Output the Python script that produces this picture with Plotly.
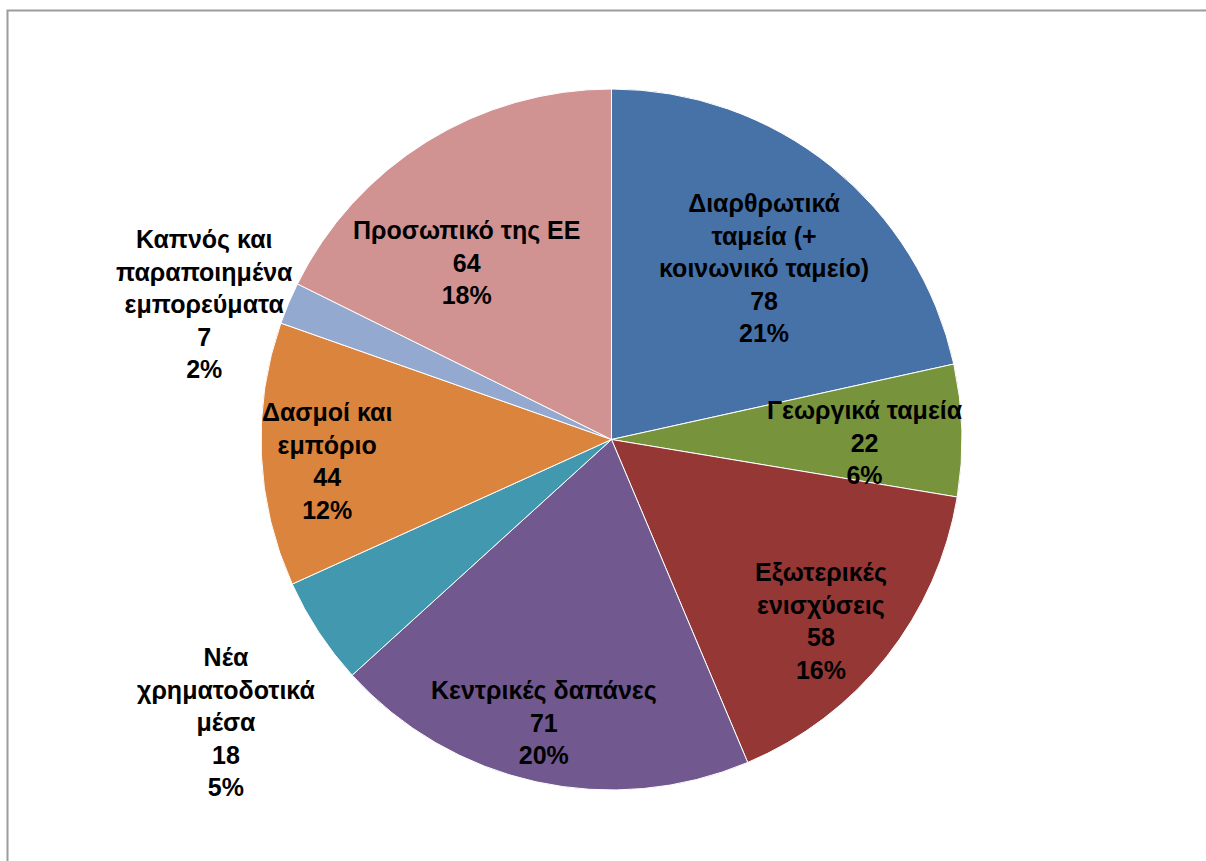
import math
import plotly.graph_objects as go

# ---- data ----
categories = [
    "Διαρθρωτικά<br>ταμεία (+<br>κοινωνικό ταμείο)",
    "Γεωργικά ταμεία",
    "Εξωτερικές<br>ενισχύσεις",
    "Κεντρικές δαπάνες",
    "Νέα<br>χρηματοδοτικά<br>μέσα",
    "Δασμοί και<br>εμπόριο",
    "Καπνός και<br>παραποιημένα<br>εμπορεύματα",
    "Προσωπικό της ΕΕ",
]
values = [78, 22, 58, 71, 18, 44, 7, 64]
percent_labels = ["21%", "6%", "16%", "20%", "5%", "12%", "2%", "18%"]

# ---- style ----
colors = ["#4672A8", "#77933C", "#953735", "#71588F",
          "#4198AF", "#DB843D", "#93A9CF", "#D19392"]
# label placement: radius as fraction of pie radius, and small angular nudge (deg)
label_r = [0.654, 0.723, 0.79, 0.83, 1.363, 0.814, 1.223, 0.654]
label_nudge = [2.8, 2.2, 2.7, 1.0, -2.9, -1.9, -4.4, -7.5]

W, H = 1206, 861
CX, CY, R = 611.5, 439.5, 350.5

fig = go.Figure()
fig.add_trace(go.Pie(
    values=values,
    labels=[c.replace("<br>", " ") for c in categories],
    sort=False,
    direction="clockwise",
    rotation=0,
    textinfo="none",
    hoverinfo="label+value+percent",
    marker=dict(colors=colors, line=dict(color="#FFFFFF", width=1)),
    domain=dict(x=[(CX - R) / W, (CX + R) / W], y=[1 - (CY + R) / H, 1 - (CY - R) / H]),
    showlegend=False,
))

total = sum(values)
cum = 0.0
annotations = []
for i, v in enumerate(values):
    mid = (cum + v / 2) / total * 360.0
    cum += v
    th = math.radians(mid + label_nudge[i])
    px = CX + label_r[i] * R * math.sin(th)
    py = CY - label_r[i] * R * math.cos(th)
    annotations.append(dict(
        x=px / W, y=1 - py / H, xref="paper", yref="paper",
        xanchor="center", yanchor="middle", showarrow=False, align="center",
        text=f"<b>{categories[i]}<br>{v}<br>{percent_labels[i]}</b>",
        font=dict(family="Liberation Sans, Arial, sans-serif", size=25, color="#000000"),
    ))

fig.update_layout(
    width=W, height=H,
    margin=dict(l=0, r=0, t=0, b=0),
    paper_bgcolor="#FFFFFF",
    plot_bgcolor="#FFFFFF",
    annotations=annotations,
    shapes=[dict(type="rect", xref="paper", yref="paper",
                 x0=7.5 / W, x1=1.05, y0=-0.05, y1=1 - 10.5 / H,
                 line=dict(color="#9C9C9C", width=2), fillcolor="rgba(0,0,0,0)", layer="below")],
)

fig.write_html(
    "out.html",
    config={"displayModeBar": False},
    post_script="document.body.style.margin='0';document.body.style.padding='0';document.body.style.overflow='hidden';",
)
